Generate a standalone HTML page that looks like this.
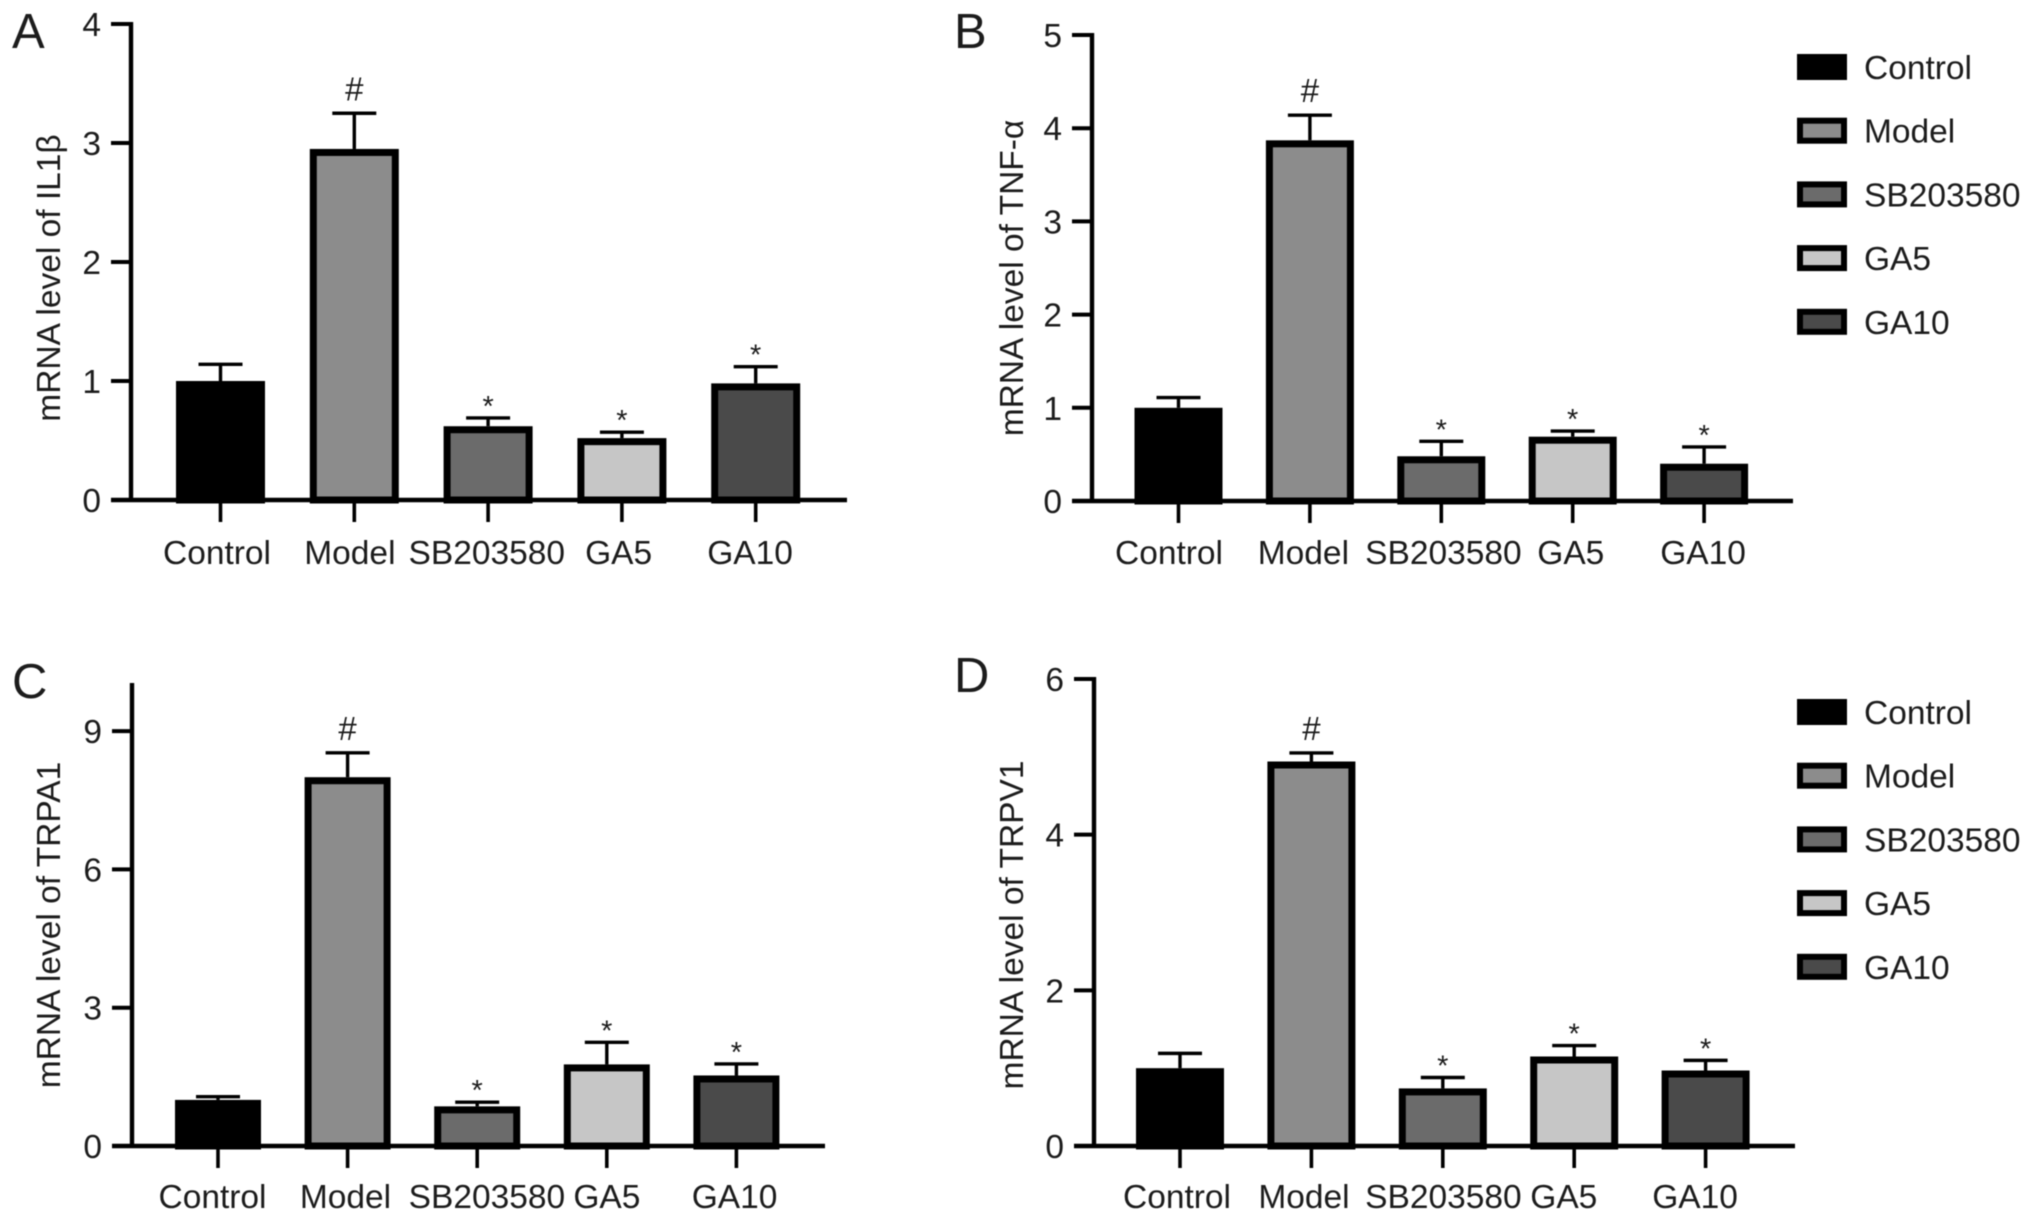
<!DOCTYPE html>
<html>
<head>
<meta charset="utf-8">
<style>
html,body{margin:0;padding:0;background:#fff;}
svg{display:block;font-family:"Liberation Sans",sans-serif;filter:blur(0.5px);}
text{fill:#1c1c1c;}
</style>
</head>
<body>
<svg id="figure" width="2032" height="1220" viewBox="0 0 2032 1220" xmlns="http://www.w3.org/2000/svg"></svg>
<script>
const categories = ['Control', 'Model', 'SB203580', 'GA5', 'GA10'];
const markers = ['', '#', '*', '*', '*'];
const fills = ['#000000', '#8c8c8c', '#6b6b6b', '#c6c6c6', '#4a4a4a'];

const valuesA = [1, 2.95, 0.62, 0.52, 0.98];
const upperA = [1.14, 3.25, 0.69, 0.57, 1.12];
const ticksA = [0, 1, 2, 3, 4];

const valuesB = [1, 3.87, 0.48, 0.69, 0.40];
const upperB = [1.11, 4.14, 0.64, 0.75, 0.58];
const ticksB = [0, 1, 2, 3, 4, 5];

const valuesC = [1, 8.0, 0.86, 1.77, 1.53];
const upperC = [1.07, 8.53, 0.95, 2.25, 1.78];
const ticksC = [0, 3, 6, 9];

const valuesD = [1, 4.94, 0.74, 1.15, 0.97];
const upperD = [1.19, 5.05, 0.88, 1.29, 1.10];
const ticksD = [0, 2, 4, 6];

const NS = 'http://www.w3.org/2000/svg';
const root = document.getElementById('figure');

function el(tag, attrs, parent, txt) {
  const n = document.createElementNS(NS, tag);
  for (const k in attrs) n.setAttribute(k, attrs[k]);
  if (txt !== undefined) n.textContent = txt;
  parent.appendChild(n);
  return n;
}

function drawPanel(p) {
  const g = el('g', {}, root);
  
  

  const y = v => p.yBase - (v / p.yMax) * (p.yBase - p.yTop);
  const x = i => p.firstX + i * p.step;

  const letter = el('text', {x: p.letterX, y: p.letterY, 'font-size': 49}, g, p.id);
  
  

  const title = el('text', {
    transform: 'translate(' + p.titleX + ',' + p.titleY + ') rotate(-90)',
    'text-anchor': 'middle', 'font-size': 33.5
  }, g, p.title);
  
  

  p.values.forEach((v, i) => {
    const cx = x(i);
    const top = y(p.upper[i]);
    const stem = el('line', {x1: cx, x2: cx, y1: y(v), y2: top, stroke: '#000', 'stroke-width': 3.4}, g);
    
    
    const cap = el('line', {x1: cx - 22, x2: cx + 22, y1: top, y2: top, stroke: '#000', 'stroke-width': 3.4}, g);
    
    

    const bar = el('rect', {
      x: cx - p.barW / 2 + 3.5, width: p.barW - 7,
      y: y(v) + 3.5, height: Math.max(0, p.yBase - y(v) - 3.5),
      fill: fills[i], stroke: '#000', 'stroke-width': 7
    }, g);
    
    

    if (markers[i] === '#') {
      const m = el('text', {x: cx, y: top - 13, 'text-anchor': 'middle', 'font-size': 33}, g, '#');
      
      
    } else if (markers[i] === '*') {
      const m = el('text', {x: cx, y: top - 2, 'text-anchor': 'middle', 'font-size': 29}, g, '*');
      
      
    }

    const tick = el('line', {x1: cx, x2: cx, y1: p.yBase, y2: p.yBase + 22, stroke: '#000', 'stroke-width': 3.6}, g);
    
    

    const lab = el('text', {x: cx + p.labelDx[i], y: p.labelY, 'text-anchor': 'middle', 'font-size': 33.5}, g, categories[i]);
    
    
  });

  const yAxis = el('line', {x1: p.axisX, x2: p.axisX, y1: y(p.yMax) - 2, y2: p.yBase + 2, stroke: '#000', 'stroke-width': 4.4}, g);
  
  
  const xAxis = el('line', {x1: p.axisX - 20, x2: p.xEnd, y1: p.yBase, y2: p.yBase, stroke: '#000', 'stroke-width': 4.4}, g);
  
  

  p.ticks.forEach(t => {
    if (t !== 0) {
      const tk = el('line', {x1: p.axisX - 20, x2: p.axisX, y1: y(t), y2: y(t), stroke: '#000', 'stroke-width': 4}, g);
      
      
    }
    const tl = el('text', {x: p.axisX - 30, y: y(t) + 12, 'text-anchor': 'end', 'font-size': 33.5}, g, String(t));
    
    
  });
}

function drawLegend(lx, cy0, gap) {
  const g = el('g', {}, root);
  
  
  categories.forEach((c, i) => {
    const cy = cy0 + i * gap;
    const sw = el('rect', {x: lx + 3, y: cy - 10, width: 44, height: 20, fill: fills[i], stroke: '#000', 'stroke-width': 6}, g);
    
    
    const t = el('text', {x: lx + 67, y: cy + 12, 'font-size': 33.5}, g, c);
    
    
  });
}

drawPanel({id: 'A', title: 'mRNA level of IL1\u03B2', values: valuesA, upper: upperA, ticks: ticksA,
  yMax: 4, yBase: 500, yTop: 24, axisX: 131, xEnd: 847, firstX: 220.5, step: 133.8, barW: 89,
  labelY: 564, labelDx: [-3.5, -4.4, -1.3, -3.3, -5.6], titleX: 60, titleY: 278, letterX: 12, letterY: 48});
drawPanel({id: 'B', title: 'mRNA level of TNF-\u03B1', values: valuesB, upper: upperB, ticks: ticksB,
  yMax: 5, yBase: 501, yTop: 35, axisX: 1092, xEnd: 1793, firstX: 1178.5, step: 131.4, barW: 88,
  labelY: 564, labelDx: [-9.5, -6.5, 2.1, -1.9, -1], titleX: 1023, titleY: 278, letterX: 954, letterY: 48});
drawPanel({id: 'C', title: 'mRNA level of TRPA1', values: valuesC, upper: upperC, ticks: ticksC,
  yMax: 10, yBase: 1146, yTop: 685, axisX: 132, xEnd: 825, firstX: 218, step: 129.6, barW: 86,
  labelY: 1208, labelDx: [-5.5, -2.1, 9.7, 0.1, -1.8], titleX: 60, titleY: 925, letterX: 12, letterY: 698});
drawPanel({id: 'D', title: 'mRNA level of TRPV1', values: valuesD, upper: upperD, ticks: ticksD,
  yMax: 6, yBase: 1146, yTop: 679, axisX: 1094, xEnd: 1795, firstX: 1180, step: 131.4, barW: 88,
  labelY: 1208, labelDx: [-3, -7.4, 0.6, -10.4, -10.5], titleX: 1023, titleY: 925, letterX: 954, letterY: 692});
drawLegend(1797, 67, 63.7);
drawLegend(1797, 712, 63.7);
</script>
</body>
</html>
